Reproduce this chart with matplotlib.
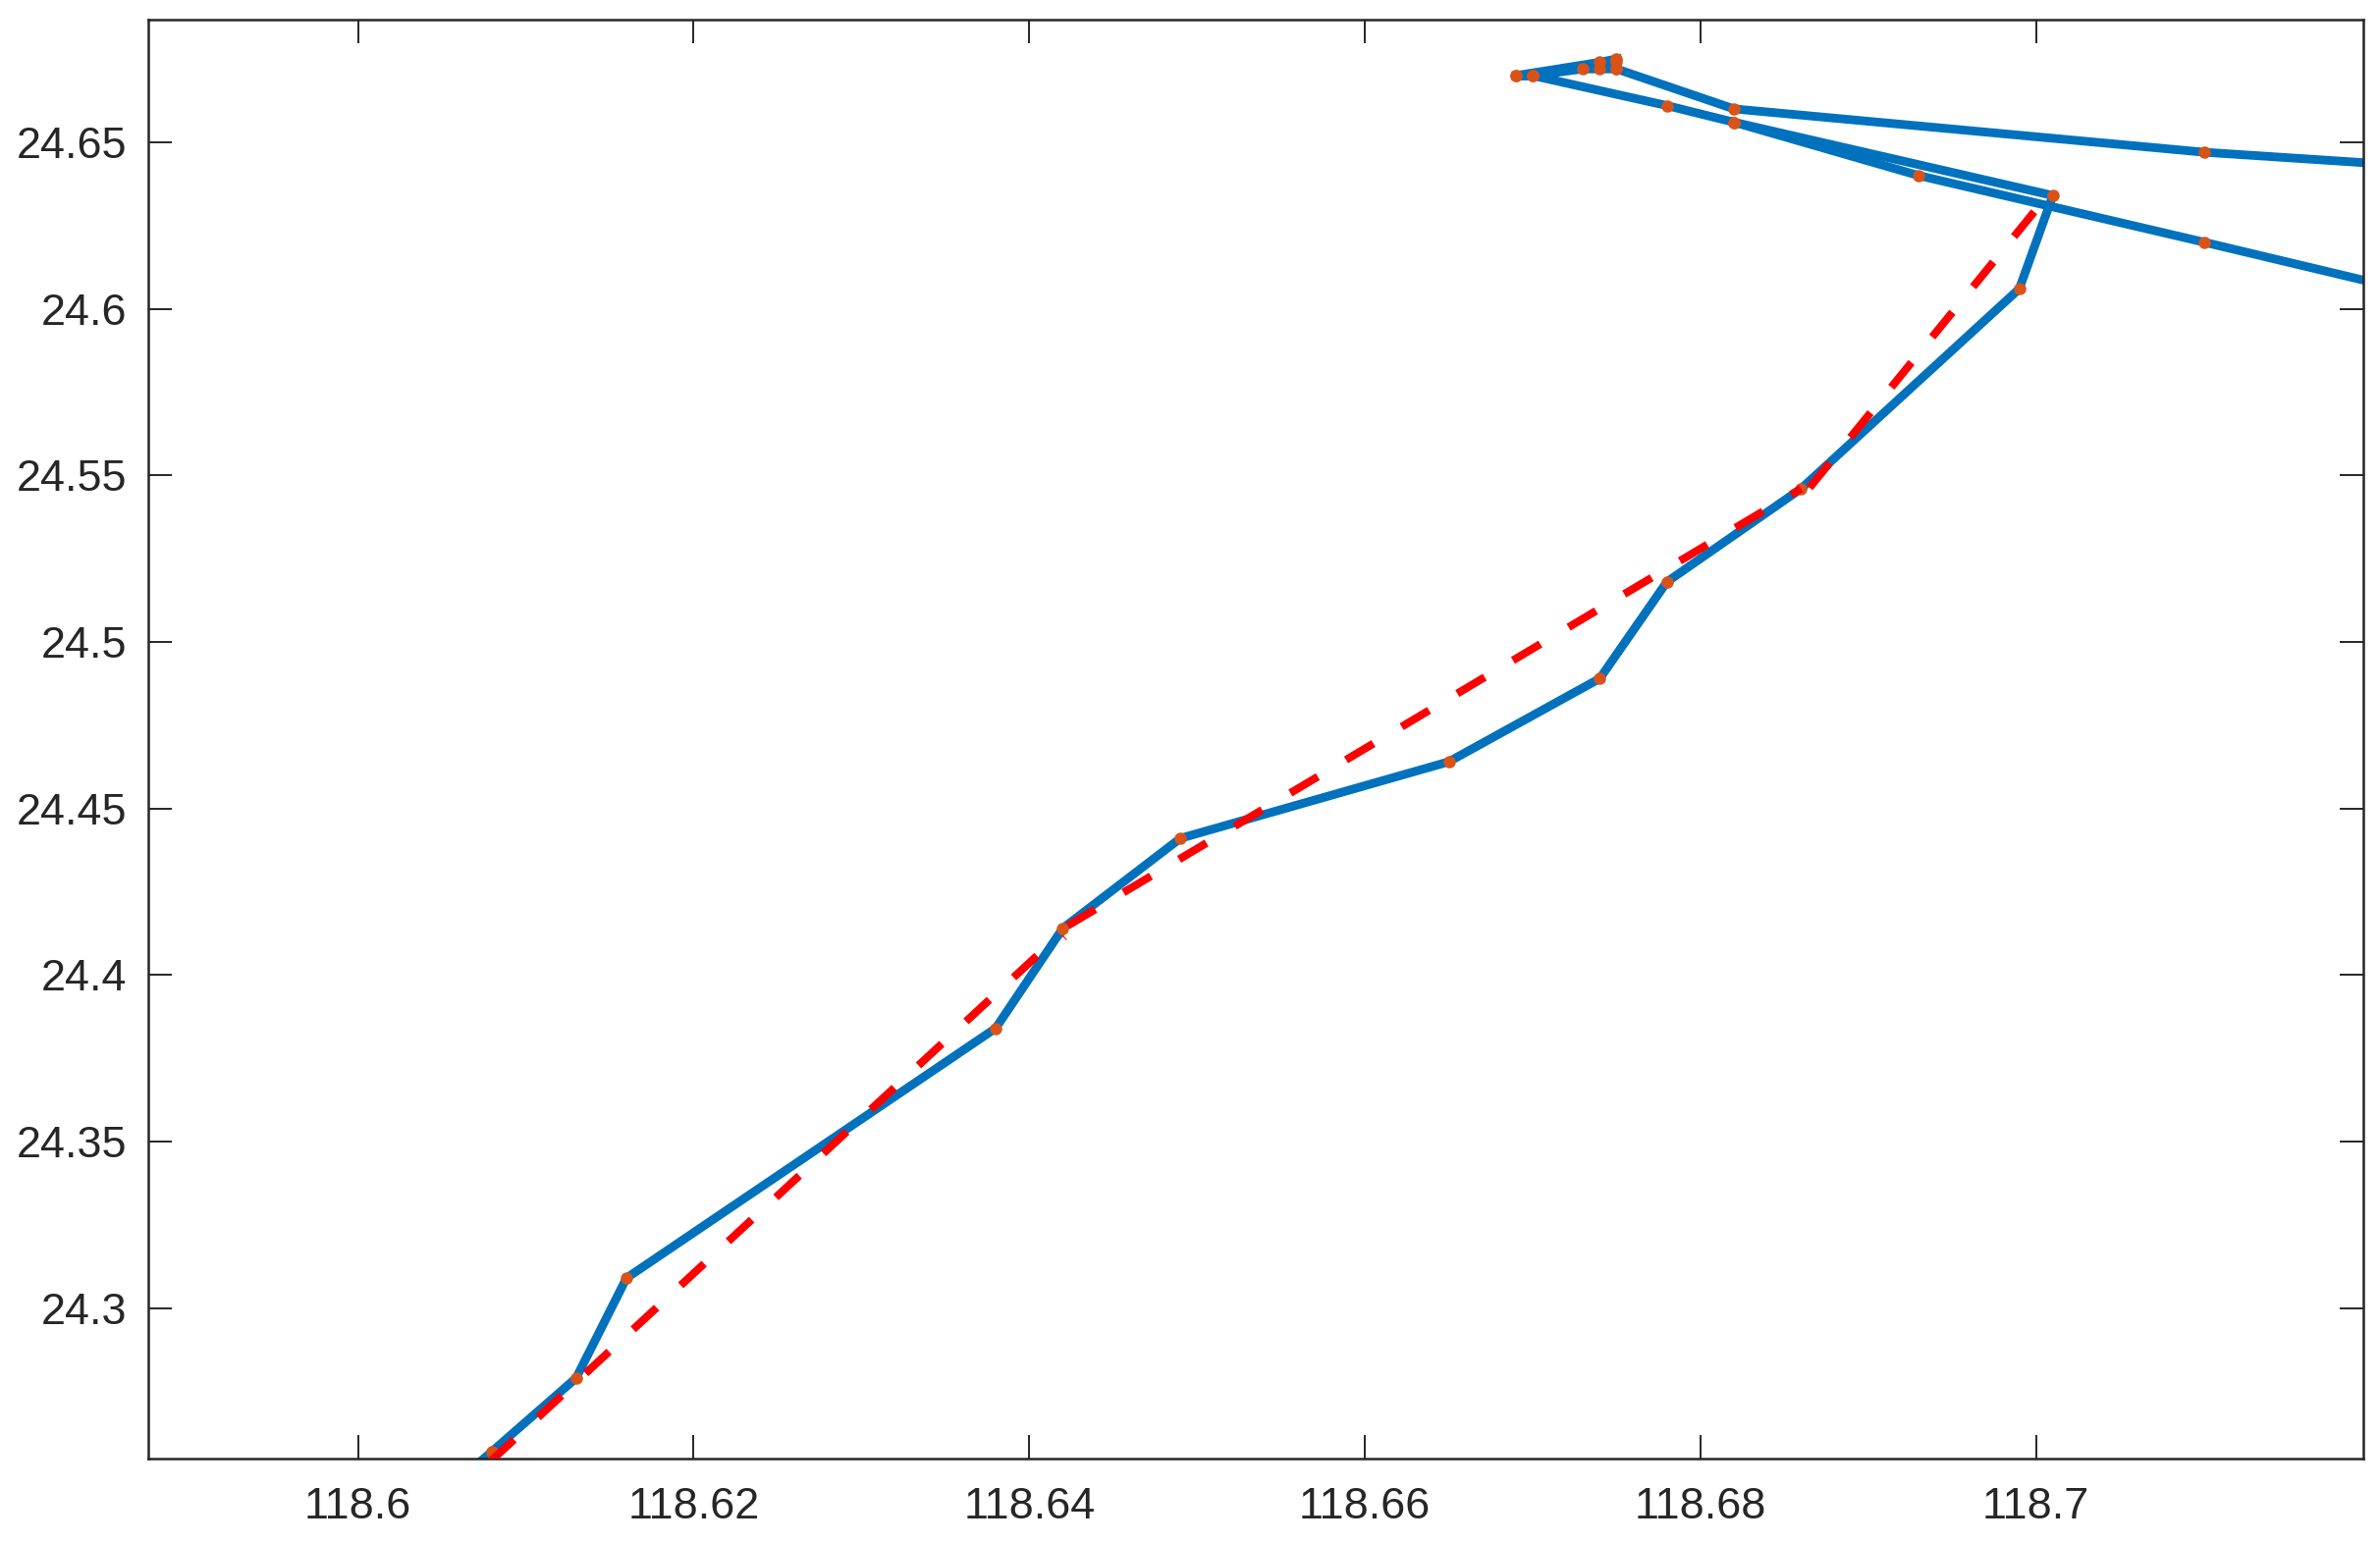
import matplotlib
matplotlib.use("Agg")
import matplotlib.pyplot as plt

plt.rcParams['font.family'] = ['Liberation Sans', 'DejaVu Sans']

# Track A: from outside the lower edge up to the turning area, round the loop and out to the right
track_a_lon = [118.605, 118.608, 118.613, 118.616, 118.638, 118.642, 118.649, 118.665, 118.674,
               118.678, 118.686, 118.699, 118.701, 118.682, 118.678, 118.670, 118.669, 118.674,
               118.675, 118.675, 118.675, 118.674, 118.673, 118.670, 118.669]
track_a_lat = [24.244, 24.257, 24.279, 24.309, 24.384, 24.414, 24.441, 24.464, 24.489,
               24.518, 24.546, 24.606, 24.634, 24.656, 24.661, 24.670, 24.670, 24.674,
               24.675, 24.674, 24.672, 24.672, 24.672, 24.670, 24.670]

# Track B: arriving from the right edge along the lower branch
track_b_lon = [118.720, 118.710, 118.693, 118.682]
track_b_lat = [24.608, 24.620, 24.640, 24.656]

# Track C: leaving the loop towards the right edge along the upper branch
track_c_lon = [118.675, 118.682, 118.710, 118.720]
track_c_lat = [24.672, 24.660, 24.647, 24.6437]

# Planned route (red dashed), three separately drawn legs
leg1_lon = [118.6079, 118.6418]
leg1_lat = [24.2540, 24.412]
leg2_lon = [118.6423, 118.686]
leg2_lat = [24.4148, 24.546]
leg3_lon = [118.6865, 118.701]
leg3_lat = [24.5463, 24.636]
waypoint_lon = [118.642]
waypoint_lat = [24.412]

x_ticks = [118.6, 118.62, 118.64, 118.66, 118.68, 118.7]
x_labels = ['118.6', '118.62', '118.64', '118.66', '118.68', '118.7']
y_ticks = [24.3, 24.35, 24.4, 24.45, 24.5, 24.55, 24.6, 24.65]
y_labels = ['24.3', '24.35', '24.4', '24.45', '24.5', '24.55', '24.6', '24.65']

W, H = 2424, 1572
fig = plt.figure(figsize=(W / 200, H / 200), dpi=200)
L, R, T, B = 151, 2407, 20, 1486
ax = fig.add_axes([L / W, 1 - B / H, (R - L) / W, (B - T) / H])

BLUE = '#0072BD'
ORANGE = '#D95319'
RED = '#FF0000'
INK = '#262626'

for lon, lat in ((track_a_lon, track_a_lat), (track_b_lon, track_b_lat), (track_c_lon, track_c_lat)):
    ax.plot(lon, lat, color=BLUE, lw=3.2, solid_joinstyle='miter', zorder=2)
for lon, lat in ((track_a_lon, track_a_lat), (track_b_lon, track_b_lat), (track_c_lon, track_c_lat)):
    ax.plot(lon, lat, ls='none', marker='o', ms=4.5, mfc=ORANGE, mec=ORANGE, mew=0, zorder=3)
for lon, lat in ((leg1_lon, leg1_lat), (leg2_lon, leg2_lat), (leg3_lon, leg3_lat)):
    ax.plot(lon, lat, color=RED, lw=2.9, ls=(0, (4.03, 4.16)), dash_capstyle='butt', zorder=4)
ax.plot(waypoint_lon, waypoint_lat, ls='none', color=RED, marker='x', ms=3, mew=0.4, zorder=1)

ax.set_xlim(118.5875, 118.7195)
ax.set_ylim(24.2548, 24.6868)
ax.set_xticks(x_ticks, x_labels)
ax.set_yticks(y_ticks, y_labels)
ax.tick_params(axis='both', which='major', direction='in', length=8.6, width=0.7,
               top=True, right=True, color=INK, labelcolor=INK, labelsize=16.2)
ax.tick_params(axis='x', pad=10.5)
ax.tick_params(axis='y', pad=7.8)
for s in ax.spines.values():
    s.set_linewidth(0.9)
    s.set_color(INK)

fig.savefig('out.png', dpi=200, facecolor='white')
